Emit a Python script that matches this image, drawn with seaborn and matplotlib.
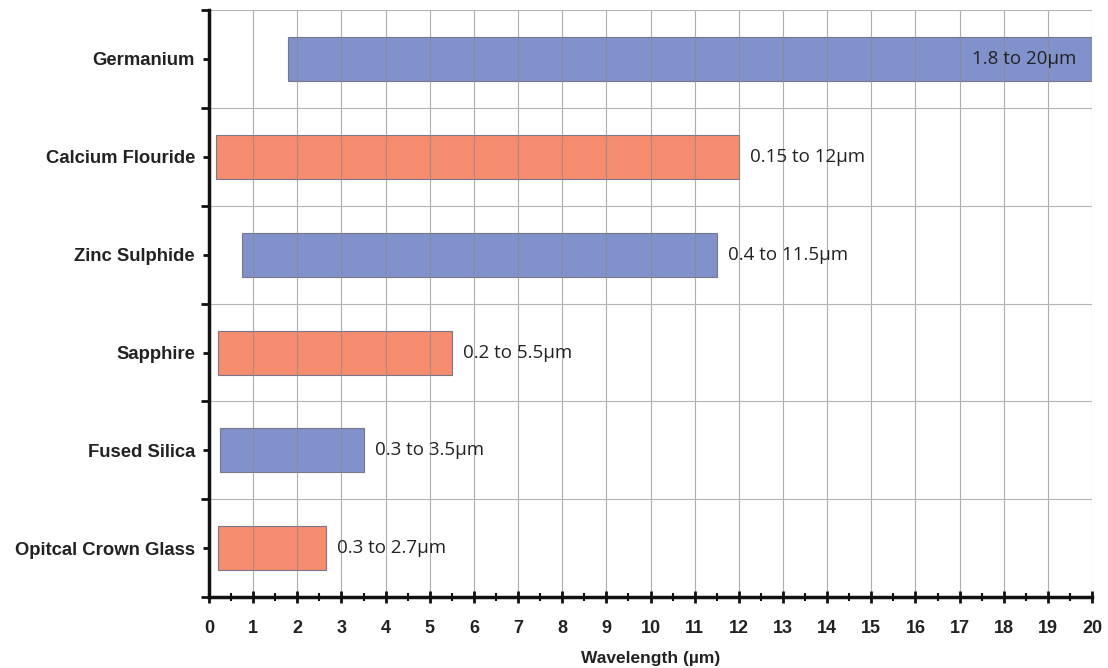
import numpy as np
import pandas as pd
import matplotlib
matplotlib.use("Agg")
import matplotlib.pyplot as plt
import seaborn as sns

# ---- data ----
materials = ["Germanium", "Calcium Flouride", "Zinc Sulphide", "Sapphire",
             "Fused Silica", "Opitcal Crown Glass"]
start_um = [1.8, 0.15, 0.75, 0.2, 0.25, 0.2]
end_um = [20.0, 12.0, 11.5, 5.5, 3.5, 2.65]
range_labels = ["1.8 to 20µm", "0.15 to 12µm", "0.4 to 11.5µm", "0.2 to 5.5µm",
                "0.3 to 3.5µm", "0.3 to 2.7µm"]
bar_colors = ["#8191CC", "#F58C6E", "#8191CC", "#F58C6E", "#8191CC", "#F58C6E"]
x_ticks = list(range(0, 21))
x_label = "Wavelength (µm)"

sns.set_style("white")
plt.rcParams["font.family"] = ["Liberation Sans", "DejaVu Sans"]

fig = plt.figure(figsize=(11.08, 6.68), dpi=100)
ax = fig.add_axes([0.1886, 0.106, 0.797, 0.879])

for i, m in enumerate(materials):
    df = pd.DataFrame({"mat": [m], "span": [end_um[i] - start_um[i]]})
    sns.barplot(data=df, x="span", y="mat", order=materials, orient="h",
                left=start_um[i], color=bar_colors[i], saturation=1,
                width=0.45, edgecolor="#77778a", linewidth=0.8, ax=ax,
                zorder=2)

for i, m in enumerate(materials):
    if end_um[i] >= 19.9:
        ax.annotate(range_labels[i], xy=(end_um[i], i), xytext=(-11, 0),
                    textcoords="offset points", ha="right", va="center",
                    fontsize=13.5, family="Open Sans", color="#222222", zorder=5)
    else:
        ax.annotate(range_labels[i], xy=(end_um[i], i), xytext=(8, 0),
                    textcoords="offset points", ha="left", va="center",
                    fontsize=13.5, family="Open Sans", color="#222222", zorder=5)

ax.set_xlim(0, 20)
ax.set_ylim(5.5, -0.5)

# x axis
ax.set_xticks(x_ticks)
ax.set_xticklabels([str(t) for t in x_ticks], fontsize=13, fontweight="bold",
                   color="#222222")
ax.set_xticks(np.arange(0.5, 20, 1), minor=True)
ax.set_xlabel(x_label, fontsize=12.5, fontweight="bold", color="#222222",
              labelpad=10)

# y axis: major ticks at boundaries, labels on minor ticks at centers
ax.set_yticks(np.arange(-0.5, 6, 1))
ax.set_yticklabels([""] * 7)
ax.set_yticks(np.arange(0, 6), minor=True)
ax.set_yticklabels(materials, minor=True, fontsize=13.3, fontweight="bold",
                   color="#222222")
ax.set_ylabel("")

ax.tick_params(axis="y", which="both", left=True)
ax.tick_params(axis="x", which="both", bottom=True)
ax.tick_params(axis="y", which="major", direction="out", length=6, width=2,
               color="#111111")
ax.tick_params(axis="y", which="minor", direction="out", length=4, width=2,
               color="#111111", pad=6)
ax.tick_params(axis="x", which="major", direction="inout", length=9, width=2,
               color="#111111", pad=12)
ax.tick_params(axis="x", which="minor", direction="inout", length=6, width=1.5,
               color="#111111")

# grid
ax.grid(False)
ax.xaxis.grid(True, which="major", color="#8a8a8a", linewidth=0.8, alpha=0.7)
ax.yaxis.grid(True, which="major", color="#b5b5b5", linewidth=0.8)
ax.set_axisbelow(False)
for gl in ax.get_xgridlines() + ax.get_ygridlines():
    gl.set_zorder(3)

for s in ["top", "right"]:
    ax.spines[s].set_visible(False)
for s in ["left", "bottom"]:
    ax.spines[s].set_linewidth(2.5)
    ax.spines[s].set_color("#111111")
    ax.spines[s].set_zorder(6)

fig.savefig("out.png", dpi=100)
